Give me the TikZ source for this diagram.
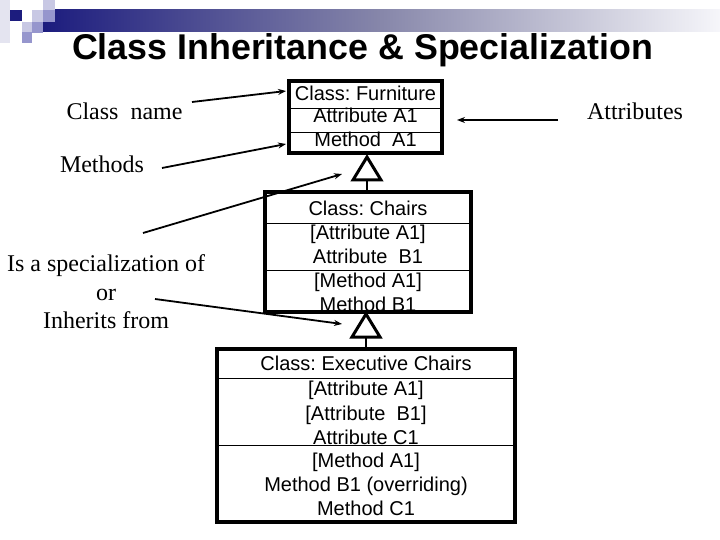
\documentclass[tikz,border=0pt]{standalone}
\usepackage{fontspec}
\setmainfont{Liberation Serif}
\newfontfamily\boxfont{Liberation Sans}
\newfontfamily\titlefont{Liberation Sans}
\usetikzlibrary{arrows.meta}
\definecolor{navy}{RGB}{28,28,126}
\definecolor{lavA}{RGB}{228,228,240}
\definecolor{lavB}{RGB}{200,200,228}
\definecolor{lavC}{RGB}{150,150,205}
\definecolor{barmid}{RGB}{135,135,170}
\definecolor{barend}{RGB}{246,246,250}
\frenchspacing
\begin{document}
\begin{tikzpicture}[x=1pt,y=-1pt,
  box/.style={draw, line width=4pt, inner sep=0pt},
  divline/.style={line width=0.8pt},
  tri/.style={line width=3pt, line join=miter, miter limit=10},
  stem/.style={line width=2.5pt},
  arr/.style={line width=1.8pt, -{Stealth[length=8pt,width=6pt]}},
  lbl/.style={font=\fontsize{24}{28}\selectfont, anchor=base, inner sep=0pt},
  txt/.style={font=\boxfont\fontsize{20}{24}\selectfont, anchor=base, inner sep=0pt},
  ttl/.style={font=\titlefont\bfseries\fontsize{35.8}{40}\selectfont, anchor=base, inner sep=0pt}]
\useasboundingbox (0,0) rectangle (720,540);
% decoration
\shade[left color=navy, right color=barend, middle color=barmid] (43,10) rectangle (720,32);
\fill[lavA] (0,0) rectangle (10,43);
\fill[navy] (10,10) rectangle (22,21);
\fill[lavB] (22,22) rectangle (32,32);
\fill[lavC] (22,32) rectangle (32,43);
\fill[lavB] (32,10) rectangle (43,22);
\fill[lavC] (32,22) rectangle (43,33);
\fill[lavB] (43,0) rectangle (55,10);
\fill[lavC] (43,10) rectangle (55,22);
% title
\node[ttl] (title) at (362.5,60) {Class Inheritance \& Specialization};
% labels
\node[lbl] (lclass) at (124.5,120) {Class\ \ name};
\node[lbl] (lmeth) at (102,173) {Methods};
\node[lbl] (lspec1) at (106,271.7) {Is a specialization of};
\node[lbl] (lspec2) at (106,300.7) {or};
\node[lbl] (lspec3) at (106,328) {Inherits from};
\node[lbl] (lattr) at (635,120) {Attributes};
% furniture text
\node[txt] (f1) at (365.5,100.7) {Class: Furniture};
\node[txt] (f2) at (365.5,123) {Attribute A1};
\node[txt] (f3) at (365.5,147) {Method\ \ A1};
% chairs text
\node[txt] (c1) at (368,215) {Class: Chairs};
\node[txt] (c2) at (368,239.5) {[Attribute A1]};
\node[txt] (c3) at (368,263.3) {Attribute\ \ B1};
\node[txt] (c4) at (368,287) {[Method A1]};
\node[txt] (c5) at (368,311) {Method B1};
% exec text
\node[txt] (e1) at (366,370.5) {Class: Executive Chairs};
\node[txt] (e2) at (366,395.5) {[Attribute A1]};
\node[txt] (e3) at (366,420.3) {[Attribute\ \ B1]};
\node[txt] (e4) at (366,444) {Attribute C1};
\node[txt] (e5) at (366,467) {[Method A1]};
\node[txt] (e6) at (366,491) {Method B1 (overriding)};
\node[txt] (e7) at (366,515.5) {Method C1};
% boxes
\node[box, minimum width=153pt, minimum height=72pt] (furn) at (365.5,117) {};
\node[box, minimum width=206pt, minimum height=119.5pt] (chairs) at (368,251.75) {};
\node[box, minimum width=298pt, minimum height=173pt] (exec) at (366,435.5) {};
% dividers
\draw[divline] (furn.west |- 0,108) -- (furn.east |- 0,108);
\draw[divline] (furn.west |- 0,132) -- (furn.east |- 0,132);
\draw[divline] (chairs.west |- 0,223) -- (chairs.east |- 0,223);
\draw[divline] (chairs.west |- 0,270) -- (chairs.east |- 0,270);
\draw[divline] (exec.west |- 0,378) -- (exec.east |- 0,378);
\draw[divline] (exec.west |- 0,445) -- (exec.east |- 0,445);
% inheritance triangles
\coordinate (t1a) at (367,157);
\coordinate (t1l) at (353,180);
\coordinate (t1r) at (381,180);
\coordinate (t1b) at (367,180);
\draw[tri] (t1a) -- (t1l) -- (t1r) -- cycle;
\draw[stem] (t1b) -- (t1b |- chairs.north);
\coordinate (t2a) at (366,314);
\coordinate (t2l) at (352,337);
\coordinate (t2r) at (380,337);
\coordinate (t2b) at (366,337);
\draw[tri] (t2a) -- (t2l) -- (t2r) -- cycle;
\draw[stem] (t2b) -- (t2b |- exec.north);
% arrows
\coordinate (a1s) at (192,102);
\coordinate (a1e) at (286,91);
\coordinate (a2s) at (162,168);
\coordinate (a2e) at (286,144);
\coordinate (a3s) at (143,233);
\coordinate (a3e) at (342,174);
\coordinate (a4s) at (155,299);
\coordinate (a4e) at (342,324);
\coordinate (a5s) at (558,120);
\coordinate (a5e) at (457,120);
\draw[arr] (a1s) -- (a1e);
\draw[arr] (a2s) -- (a2e);
\draw[arr] (a3s) -- (a3e);
\draw[arr] (a4s) -- (a4e);
\draw[arr] (a5s) -- (a5e);
\end{tikzpicture}
\end{document}
